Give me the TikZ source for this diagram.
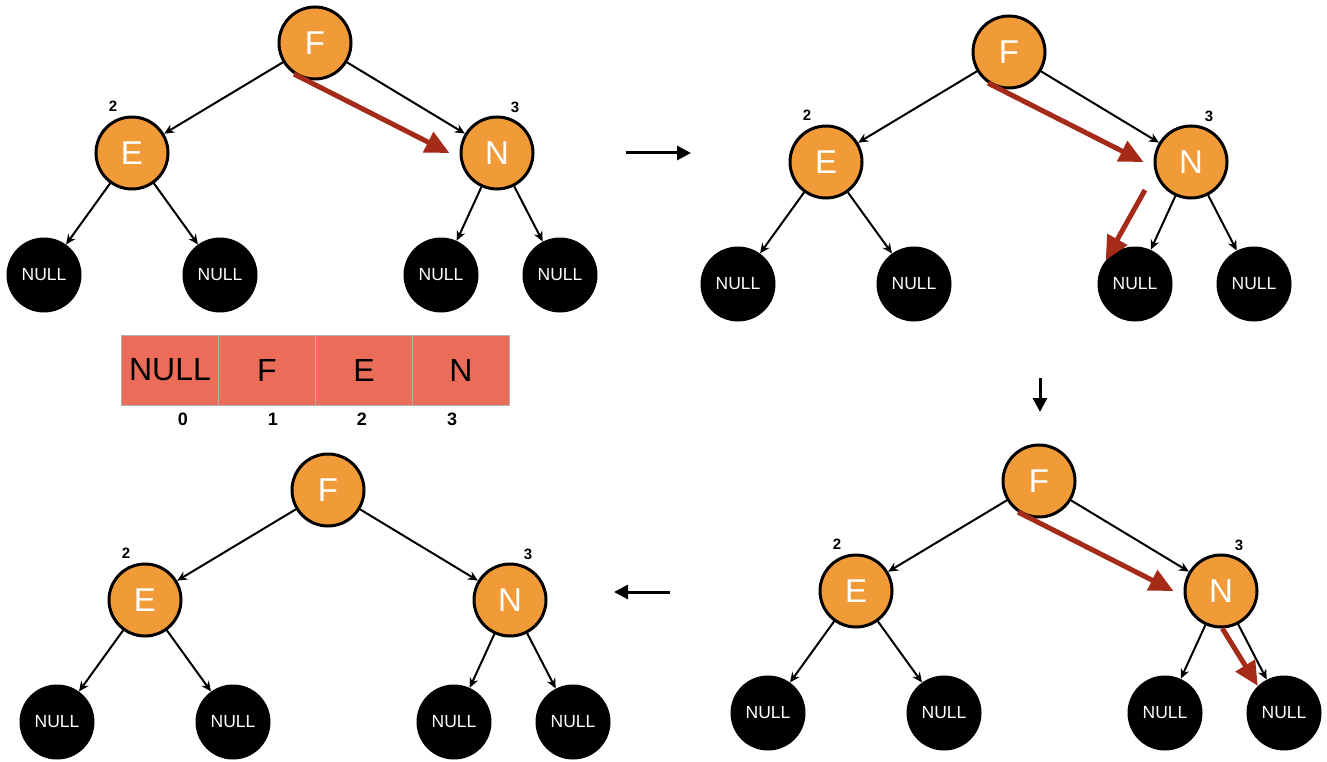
\documentclass[tikz,border=0pt]{standalone}
\usepackage{fontspec}
\setmainfont{Liberation Sans}
\usetikzlibrary{arrows.meta,positioning,calc}
\definecolor{NodeOrange}{HTML}{F09A38}
\definecolor{WalkRed}{HTML}{A52A17}
\definecolor{CellSalmon}{HTML}{EC6C5A}

\begin{document}
\begin{tikzpicture}[x=1pt,y=-1pt,
    key/.style={circle,draw=black,line width=3pt,fill=NodeOrange,
      minimum size=72pt,inner sep=0pt,text=white,
      font=\fontsize{33}{33}\selectfont},
    nil/.style={circle,fill=black,minimum size=75pt,inner sep=0pt,
      text=white,font=\fontsize{17.5}{17.5}\selectfont},
    link/.style={-{Stealth[length=10pt,width=9pt]},line width=2pt},
    walk/.style={-{Triangle[length=24pt,width=22pt]},line width=5pt,
      draw=WalkRed},
    turn/.style={-{Triangle[length=14pt,width=14pt]},line width=3pt},
    numlbl/.style={font=\bfseries\fontsize{15}{15}\selectfont},
    idx/.style={font=\bfseries\fontsize{18}{18}\selectfont},
    cell/.style={draw=gray!60,line width=0.8pt,fill=CellSalmon,
      minimum width=97pt,minimum height=70pt,inner sep=0pt,outer sep=0pt,
      font=\fontsize{32}{32}\selectfont}
  ]
  \useasboundingbox (0,0) rectangle (1327,762);

  % four copies of the tree
  \foreach \t/\x/\y in {a/315/43,b/1009/52,c/1039/481,d/328/490}{
    \begin{scope}[shift={(\x,\y)}]
      \node[key] (\t-F) at (0,0) {F};
      \node[key] (\t-E) at (-183,110) {E};
      \node[key] (\t-N) at (182,110) {N};
      \node[nil] (\t-L1) at (-271,232) {NULL};
      \node[nil] (\t-L2) at (-95,232) {NULL};
      \node[nil] (\t-L3) at (126,232) {NULL};
      \node[nil] (\t-L4) at (245,232) {NULL};
      \node[numlbl] (\t-n2) at (-202,63) {2};
      \node[numlbl] (\t-n3) at (200,64) {3};
      \draw[link] (\t-F) -- (\t-E);
      \draw[link] (\t-F) -- (\t-N);
      \draw[link] (\t-E) -- (\t-L1);
      \draw[link] (\t-E) -- (\t-L2);
      \draw[link] (\t-N) -- (\t-L3);
      \draw[link] (\t-N) -- (\t-L4);
    \end{scope}
  }

  % search path
  \draw[walk] (a-F.236) -- ([xshift=-10pt]a-N.west);
  \draw[walk] (b-F.236) -- ([xshift=-10pt]b-N.west);
  \draw[walk] ($(b-N.center)+(-46,28)$) -- (b-L3.141);
  \draw[walk] (c-F.236) -- ([xshift=-10pt]c-N.west);
  \draw[walk] (c-N.272) -- (c-L4.134);

  % array
  \node[cell] (c0) at (170,370) {NULL};
  \node[cell,right=0pt of c0] (c1) {F};
  \node[cell,right=0pt of c1] (c2) {E};
  \node[cell,right=0pt of c2] (c3) {N};
  \node[idx] (i0) at (183,419) {0};
  \node[idx] (i1) at (273,419) {1};
  \node[idx] (i2) at (362,419) {2};
  \node[idx] (i3) at (452,419) {3};

  % steps between the trees
  \coordinate (s1) at (626,153);
  \coordinate (s2) at (691,153);
  \coordinate (s3) at (1040,378);
  \coordinate (s4) at (1040,412);
  \coordinate (s5) at (670,592);
  \coordinate (s6) at (614,592);
  \draw[turn] (s1) -- (s2);
  \draw[turn] (s3) -- (s4);
  \draw[turn] (s5) -- (s6);
\end{tikzpicture}
\end{document}
